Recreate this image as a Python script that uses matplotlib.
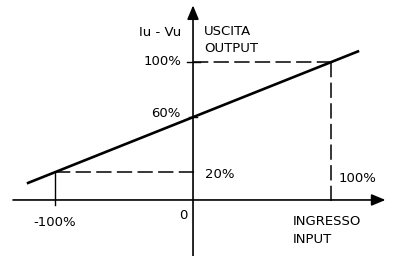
import matplotlib
matplotlib.use("Agg")
import matplotlib.pyplot as plt

# characteristic: input (%) -> output (%)
line_x = [-120, 120]
line_y = [12, 108]
mark_x = [-100, 100]
mark_y = [20, 100]
mid_y = 60

plt.rcParams['font.family'] = ['DejaVu Sans Condensed', 'DejaVu Sans']

fig = plt.figure(figsize=(3.96, 2.56), dpi=100)
ax = fig.add_axes([0, 0, 1, 1])
ax.set_xlim(-139.4, 146.6)
ax.set_ylim(-40.6, 144.9)
ax.axis('off')

k = 'black'
# axes with arrows
ax.annotate('', xy=(139, 0), xytext=(-130, 0),
            arrowprops=dict(arrowstyle='-|>,head_length=0.6,head_width=0.25',
                            color=k, lw=1.2, mutation_scale=14,
                            shrinkA=0, shrinkB=0))
ax.annotate('', xy=(0, 141), xytext=(0, -41),
            arrowprops=dict(arrowstyle='-|>,head_length=0.6,head_width=0.25',
                            color=k, lw=1.2, mutation_scale=14,
                            shrinkA=0, shrinkB=0))

# characteristic line
ax.plot(line_x, line_y, color=k, lw=1.9, solid_capstyle='butt')

dash = dict(color=k, lw=1.1, dashes=(10, 3.5))
# 100% guides
ax.plot([0, mark_x[1]], [mark_y[1], mark_y[1]], **dash)
ax.plot([mark_x[1], mark_x[1]], [mark_y[1], -4.5], **dash)
# -100% guides
ax.plot([mark_x[0], 4], [mark_y[0], mark_y[0]], **dash)
ax.plot([mark_x[0], mark_x[0]], [mark_y[0], -4], color=k, lw=1.0)

# ticks on y axis
ax.plot([-4, 5], [mark_y[1], mark_y[1]], color=k, lw=1.0)
ax.plot([-3, 3], [mid_y, mid_y], color=k, lw=1.0)

fs = 9.5
ax.text(-8.5, 121, 'Iu - Vu', ha='right', va='center', fontsize=fs)
ax.text(8, 122, 'USCITA', ha='left', va='center', fontsize=fs)
ax.text(8, 110, 'OUTPUT', ha='left', va='center', fontsize=fs)
ax.text(-8.5, mark_y[1], '100%', ha='right', va='center', fontsize=fs)
ax.text(-9, mid_y + 2.5, '60%', ha='right', va='center', fontsize=fs)
ax.text(9, mark_y[0] - 1.5, '20%', ha='left', va='center', fontsize=fs)
ax.text(105, 15.5, '100%', ha='left', va='center', fontsize=fs)
ax.text(-100, -16.5, '-100%', ha='center', va='center', fontsize=fs)
ax.text(-4, -11, '0', ha='right', va='center', fontsize=fs)
ax.text(72, -15.5, 'INGRESSO', ha='left', va='center', fontsize=fs)
ax.text(72, -29, 'INPUT', ha='left', va='center', fontsize=fs)

fig.savefig('out.png', dpi=100)
